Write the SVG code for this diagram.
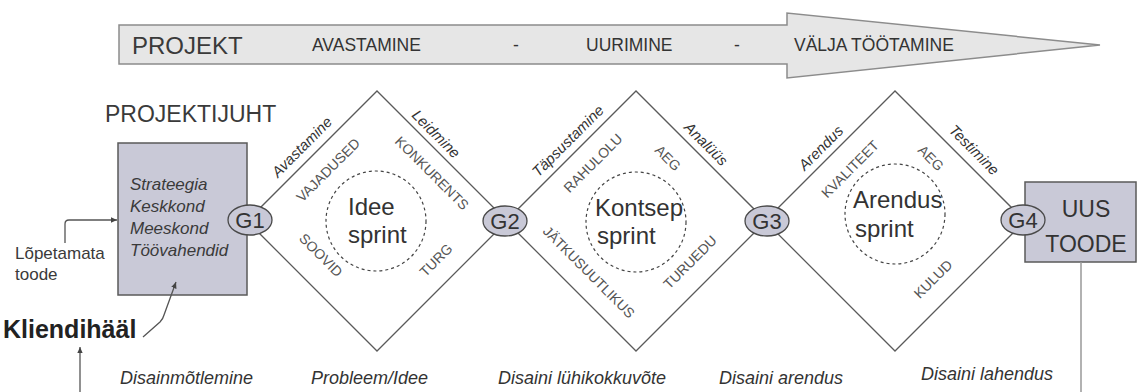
<svg xmlns="http://www.w3.org/2000/svg" width="1139" height="392" viewBox="0 0 1139 392">
  <style>
    text { font-family: "Liberation Sans", Arial, sans-serif; fill: #3a3a3a; }
    .banner { fill: #e6e6e6; stroke: #8c8c8c; stroke-width: 1.5; }
    .box { fill: #c9c9d7; stroke: #5a5a5a; stroke-width: 1.5; }
    .diamond { fill: none; stroke: #5a5a5a; stroke-width: 1.3; }
    .gate { fill: #c9c9d7; stroke: #4a4a4a; stroke-width: 1.3; }
    .gate-label { font-size: 22px; text-anchor: middle; fill: #333; }
    .sprint-ring { fill: none; stroke: #444; stroke-width: 1.2; stroke-dasharray: 3 3; }
    .sprint { font-size: 24px; fill: #333; }
    .edge-label { font-size: 15px; font-style: italic; text-anchor: middle; fill: #333; }
    .inner { font-size: 14px; text-anchor: middle; fill: #555; }
    .phase { font-size: 17.5px; fill: #333; }
    .stage { font-size: 18px; font-style: italic; fill: #333; }
    .conn { fill: none; stroke: #555; stroke-width: 1.3; }
  </style>
  <defs>
    <marker id="arrow" viewBox="0 0 10 10" refX="9" refY="5" markerWidth="7" markerHeight="7" orient="auto-start-reverse" markerUnits="userSpaceOnUse">
      <path d="M0,1 L9,5 L0,9 Z" fill="#444"/>
    </marker>
  </defs>

  <!-- project banner arrow -->
  <g id="banner">
    <path class="banner" d="M119,25 H787 V13 L1100,45 L787,78 V64 H119 Z"/>
    <text x="132" y="54" style="font-size:24px">PROJEKT</text>
    <text class="phase" x="312" y="51">AVASTAMINE</text>
    <text class="phase" x="513" y="51">-</text>
    <text class="phase" x="586" y="51">UURIMINE</text>
    <text class="phase" x="734" y="51">-</text>
    <text class="phase" x="794" y="51">VÄLJA TÖÖTAMINE</text>
  </g>

  <text id="project-lead" x="105" y="122" style="font-size:23px">PROJEKTIJUHT</text>

  <!-- input box -->
  <g id="inputs">
    <rect class="box" x="118" y="143" width="129" height="152"/>
    <g style="font-size:17px;font-style:italic">
      <text x="130" y="190">Strateegia</text>
      <text x="130" y="212">Keskkond</text>
      <text x="130" y="234">Meeskond</text>
      <text x="130" y="256">Töövahendid</text>
    </g>
  </g>

  <g id="unfinished-product">
    <text x="15" y="259" style="font-size:17px">Lõpetamata</text>
    <text x="15" y="280" style="font-size:17px">toode</text>
  </g>

  <text id="customer-voice" x="3" y="338" style="font-size:25px;font-weight:bold;fill:#222">Kliendihääl</text>

  <!-- sprint diamonds -->
  <g id="sprint-idea">
    <polygon class="diamond" points="247,221 377,91 507,221 377,351"/>
    <circle class="sprint-ring" cx="376" cy="221" r="50"/>
    <text class="sprint" x="348" y="215">Idee</text>
    <text class="sprint" x="348" y="243">sprint</text>
    <text class="edge-label" transform="translate(302,147) rotate(-45)" y="5">Avastamine</text>
    <text class="edge-label" transform="translate(436,134) rotate(45)" y="5">Leidmine</text>
    <text class="inner" transform="translate(328,170) rotate(-45)" y="5">VAJADUSED</text>
    <text class="inner" transform="translate(432,173) rotate(45)" y="5">KONKURENTS</text>
    <text class="inner" transform="translate(321,255) rotate(45)" y="5">SOOVID</text>
    <text class="inner" transform="translate(436,260) rotate(-45)" y="5">TURG</text>
  </g>

  <g id="sprint-concept">
    <polygon class="diamond" points="506,221 636,91 766,221 636,351"/>
    <circle class="sprint-ring" cx="636" cy="222" r="50"/>
    <text class="sprint" x="595" y="216">Kontsep</text>
    <text class="sprint" x="597" y="244">sprint</text>
    <text class="edge-label" transform="translate(568,141) rotate(-45)" y="5">Täpsustamine</text>
    <text class="edge-label" transform="translate(706,144) rotate(45)" y="5">Analüüs</text>
    <text class="inner" transform="translate(593,163) rotate(-45)" y="5">RAHULOLU</text>
    <text class="inner" transform="translate(668,158) rotate(45)" y="5">AEG</text>
    <text class="inner" transform="translate(589,272) rotate(45)" y="5">JÄTKUSUUTLIKUS</text>
    <text class="inner" transform="translate(690,262) rotate(-45)" y="5">TURUEDU</text>
  </g>

  <g id="sprint-development">
    <polygon class="diamond" points="765,221 895,91 1025,221 895,351"/>
    <circle class="sprint-ring" cx="895" cy="214" r="50"/>
    <text class="sprint" x="853" y="208">Arendus</text>
    <text class="sprint" x="855" y="237">sprint</text>
    <text class="edge-label" transform="translate(821,148) rotate(-45)" y="5">Arendus</text>
    <text class="edge-label" transform="translate(974,150) rotate(45)" y="5">Testimine</text>
    <text class="inner" transform="translate(850,169) rotate(-45)" y="5">KVALITEET</text>
    <text class="inner" transform="translate(931,158) rotate(45)" y="5">AEG</text>
    <text class="inner" transform="translate(933,279) rotate(-45)" y="5">KULUD</text>
  </g>

  <!-- output box -->
  <g id="new-product">
    <rect class="box" x="1025" y="182" width="111" height="80"/>
    <text x="1086" y="217" style="font-size:23px;text-anchor:middle;fill:#333">UUS</text>
    <text x="1086" y="252" style="font-size:23px;text-anchor:middle;fill:#333">TOODE</text>
  </g>

  <!-- gates -->
  <g id="gate-1"><ellipse class="gate" cx="250" cy="220" rx="22" ry="15"/><text class="gate-label" x="250" y="228">G1</text></g>
  <g id="gate-2"><ellipse class="gate" cx="505" cy="221" rx="22" ry="15"/><text class="gate-label" x="505" y="229">G2</text></g>
  <g id="gate-3"><ellipse class="gate" cx="767" cy="221" rx="22" ry="15"/><text class="gate-label" x="767" y="229">G3</text></g>
  <g id="gate-4"><ellipse class="gate" cx="1023" cy="220" rx="22" ry="15"/><text class="gate-label" x="1023" y="228">G4</text></g>

  <!-- connectors -->
  <g id="connectors">
    <path class="conn" d="M65,243 V224 Q65,220 69,220 H117" marker-end="url(#arrow)"/>
    <path class="conn" d="M143,337 L160,322 Q163,319 164,315 L176,282" marker-end="url(#arrow)"/>
    <path class="conn" d="M80,392 V347" marker-end="url(#arrow)"/>
    <path d="M1081,262 V392" fill="none" stroke="#999" stroke-width="1.5"/>
  </g>

  <!-- stage captions -->
  <g id="stages">
    <text class="stage" x="120" y="384">Disainmõtlemine</text>
    <text class="stage" x="311" y="384">Probleem/Idee</text>
    <text class="stage" x="498" y="384">Disaini lühikokkuvõte</text>
    <text class="stage" x="719" y="384">Disaini arendus</text>
    <text class="stage" x="921" y="380">Disaini lahendus</text>
  </g>
</svg>
